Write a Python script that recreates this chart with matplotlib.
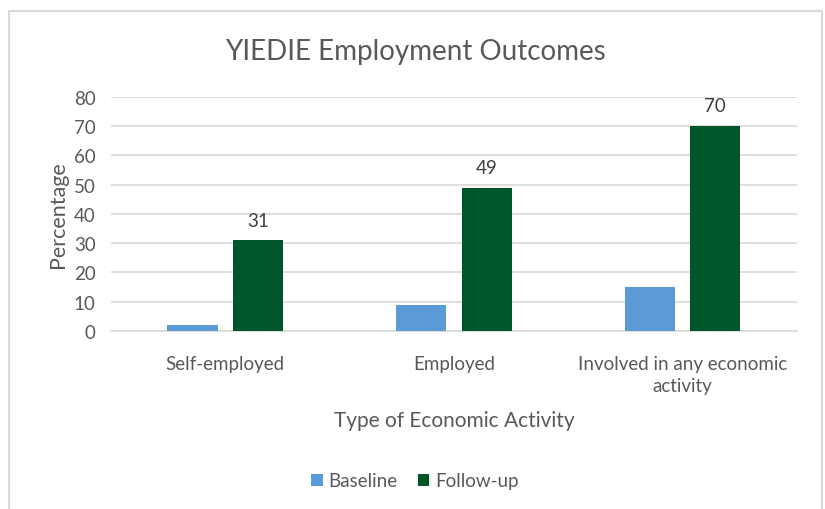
import matplotlib.pyplot as plt
import matplotlib.lines as mlines
import numpy as np

plt.rcParams['font.family'] = ['Lato', 'DejaVu Sans']

categories = ["Self-employed", "Employed", "Involved in any economic\nactivity"]
baseline = [2, 9, 15]
followup = [31, 49, 70]
yticks = [0, 10, 20, 30, 40, 50, 60, 70, 80]

txt = '#595959'
blue = '#5b9bd5'
green = '#00562b'

fig = plt.figure(figsize=(8.25, 5.1), dpi=100)
ax = fig.add_axes([0.1345, 0.349, 0.8315, 0.459])

x = np.arange(len(categories))
w = 0.22
off = 0.143
ax.bar(x - off, baseline, w, color=blue, label='Baseline', zorder=3)
bars = ax.bar(x + off, followup, w, color=green, label='Follow-up', zorder=3)
for b, v in zip(bars, followup):
    ax.text(b.get_x() + b.get_width() / 2, v + 4, str(v), ha='center', va='bottom',
            fontsize=13.5, color='#404040')

ax.set_xlim(-0.5, 2.5)
ax.set_ylim(0, 80)
ax.set_yticks(yticks)
ax.set_xticks(x)
ax.set_xticklabels(categories, linespacing=1.35)
ax.yaxis.grid(True, color='#d9d9d9', linewidth=1.2, zorder=0)
for s in ['top', 'right', 'left']:
    ax.spines[s].set_visible(False)
ax.spines['bottom'].set_color('#d9d9d9')
ax.spines['bottom'].set_linewidth(1.2)
ax.tick_params(axis='both', length=0, labelsize=13.5, colors=txt)
ax.tick_params(axis='x', pad=17)
ax.tick_params(axis='y', pad=11)

ax.set_ylabel('Percentage', fontsize=15.5, color=txt, labelpad=4)
ax.set_xlabel('Type of Economic Activity', fontsize=15, color=txt, labelpad=12)
fig.text(0.503, 0.898, 'YIEDIE Employment Outcomes', ha='center', va='center',
         fontsize=20, color=txt)

leg = fig.legend(loc='center', bbox_to_anchor=(0.503, 0.055), ncol=2, frameon=False,
                 fontsize=13.5, handlelength=0.6, handleheight=0.6, handletextpad=0.3,
                 columnspacing=1.1)
for t in leg.get_texts():
    t.set_color(txt)

# chart border
fx0, fx1, fy1 = 9 / 825, 822 / 825, 1 - 12 / 510
fig.add_artist(mlines.Line2D([fx0, fx0, fx1, fx1], [0, fy1, fy1, 0],
                             transform=fig.transFigure, color='#d9d9d9', linewidth=1.5))

fig.savefig('out.png', dpi=100, facecolor='white')
